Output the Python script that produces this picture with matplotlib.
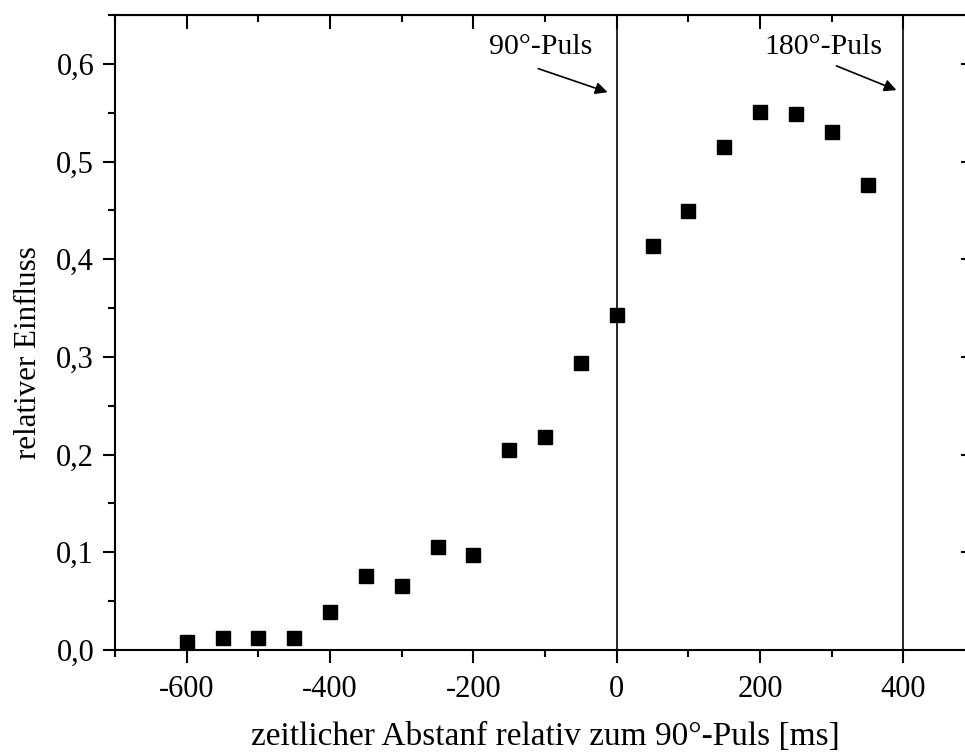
import numpy as np
import matplotlib
matplotlib.use("Agg")
import matplotlib.pyplot as plt
from matplotlib.ticker import MultipleLocator, FuncFormatter

plt.rcParams['font.family'] = ['Liberation Serif', 'DejaVu Serif']

# data
zeit = [-600, -550, -500, -450, -400, -350, -300, -250, -200, -150,
        -100, -50, 0, 50, 100, 150, 200, 250, 300, 350]
einfluss = [0.0085, 0.0125, 0.012, 0.012, 0.039, 0.076, 0.066, 0.105, 0.097, 0.205,
            0.218, 0.294, 0.343, 0.414, 0.449, 0.515, 0.551, 0.549, 0.530, 0.476]
puls_pos = [0, 400]
puls_text = ["90°-Puls", "180°-Puls"]

fig = plt.figure(figsize=(9.65, 7.55), dpi=100)
# right spine sits just outside the picture, like in the original
ax = fig.add_axes([115/965, 105/755, 860/965, 635/755])

ax.plot(zeit, einfluss, 's', color='black', markersize=10.5, zorder=3)

for p in puls_pos:
    ax.axvline(p, color='black', lw=1.2)

# pulse labels with arrows
ax.annotate("", xy=(-9, 0.570), xytext=(-113, 0.596),
            arrowprops=dict(arrowstyle='-|>', color='black', lw=1.2, mutation_scale=18))
ax.text(-106, 0.617, puls_text[0], fontsize=21.5, ha='center', va='center')
ax.annotate("", xy=(394, 0.572), xytext=(303, 0.599),
            arrowprops=dict(arrowstyle='-|>', color='black', lw=1.2, mutation_scale=18))
ax.text(289, 0.617, puls_text[1], fontsize=21.5, ha='center', va='center')

ax.set_xlim(-700, 500)
ax.set_ylim(0, 0.65)

ax.xaxis.set_major_locator(MultipleLocator(200))
ax.xaxis.set_minor_locator(MultipleLocator(100))
ax.yaxis.set_major_locator(MultipleLocator(0.1))
ax.yaxis.set_minor_locator(MultipleLocator(0.05))
ax.yaxis.set_major_formatter(FuncFormatter(lambda v, pos: ("%.1f" % v).replace('.', ',')))
ax.xaxis.set_major_formatter(FuncFormatter(lambda v, pos: "%d" % v))

ax.tick_params(which='both', labelsize=22, width=1.5)
ax.tick_params(axis='x', which='major', direction='out', length=9, pad=9)
ax.tick_params(axis='x', which='minor', direction='out', length=5)
ax.tick_params(axis='y', which='major', direction='out', length=9, pad=6)
ax.tick_params(axis='y', which='minor', direction='out', length=5)

for s in ax.spines.values():
    s.set_linewidth(1.5)

# ticks on top / right pointing inward
top = ax.secondary_xaxis('top')
top.xaxis.set_major_locator(MultipleLocator(200))
top.xaxis.set_minor_locator(MultipleLocator(100))
top.tick_params(which='both', direction='in', labeltop=False, width=1.5)
top.tick_params(which='major', length=10)
top.tick_params(which='minor', length=5)
right = ax.secondary_yaxis('right')
right.yaxis.set_major_locator(MultipleLocator(0.1))
right.yaxis.set_minor_locator(MultipleLocator(0.05))
right.tick_params(which='both', direction='in', labelright=False, width=1.5)
right.tick_params(which='major', length=10)
right.tick_params(which='minor', length=5)

ax.set_xlabel("zeitlicher Abstanf relativ zum 90°-Puls [ms]", fontsize=24)
ax.xaxis.set_label_coords(0.5, -0.150, transform=ax.transAxes)
ax.xaxis.label.set_va('baseline')
ax.set_ylabel("relativer Einfluss", fontsize=22.3)
ax.yaxis.set_label_coords(-0.100, 0.468, transform=ax.transAxes)
ax.yaxis.label.set_va('center')

fig.savefig("out.png", dpi=100)
